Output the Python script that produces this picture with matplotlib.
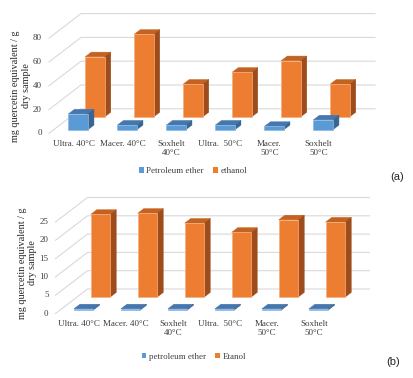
"""
Flavonoid content, two pseudo-3D column panels.
"""

import matplotlib

matplotlib.use("Agg")

import matplotlib.pyplot as plt
from matplotlib.patches import Patch, Polygon

plt.rcParams["font.family"] = ["Liberation Serif", "DejaVu Serif"]

# =====================================================
# Data
# =====================================================

categories = [
    "Ultra. 40°C",
    "Macer. 40°C",
    "Soxhelt\n40°C",
    "Ultra.  50°C",
    "Macer.\n50°C",
    "Soxhelt\n50°C",
]

# panel (a)
a_petroleum = [13.3, 3.9, 3.9, 3.9, 2.8, 8.3]
a_ethanol = [50.5, 69.4, 27.5, 37.5, 47.2, 27.5]
a_ticks = [0, 20, 40, 60, 80]
a_legend = ["Petroleum ether", "ethanol"]

# panel (b)
b_petroleum = [0.3, 0.3, 0.3, 0.3, 0.3, 0.3]
b_etanol = [22.6, 22.9, 20.2, 17.7, 21.1, 20.5]
b_ticks = [0, 5, 10, 15, 20, 25]
b_legend = ["petroleum ether", "Etanol"]

ylabel = "mg quercetin equivalent / g\ndry sample"

# =====================================================
# Style
# =====================================================

W, H = 413, 378

BLUE = {"face": "#5B9BD5", "top": "#4676AE", "side": "#3A6591", "edge": "#8DB8E2"}
ORANGE = {"face": "#ED7D31", "top": "#C4621F", "side": "#9E4C1B", "edge": "#F5AE7E"}
GRID = "#D9D9D9"

DEPTH_PX = (32, 24.5)      # oblique vector from front to back wall
BAR_W_PX = 19.5
THICK = 0.19               # bar depth, fraction of full depth
ROW_DEPTH = (0.145, 0.67)  # front, back series


def bar3d(ax, x, base, value, w, dx, dy, colors, z):
    xl = x - w / 2
    xr = x + w / 2
    tx = THICK * dx
    ty = THICK * dy
    top = base + value

    ax.add_patch(Polygon(
        [(xl, top), (xr, top), (xr + tx, top + ty), (xl + tx, top + ty)],
        closed=True, facecolor=colors["top"], edgecolor=colors["top"],
        linewidth=0.3, zorder=z,
    ))
    ax.add_patch(Polygon(
        [(xr, base), (xr, top), (xr + tx, top + ty), (xr + tx, base + ty)],
        closed=True, facecolor=colors["side"], edgecolor=colors["side"],
        linewidth=0.3, zorder=z,
    ))
    ax.bar(
        x, value, width=w, bottom=base,
        color=colors["face"], edgecolor=colors["edge"],
        linewidth=0.5, zorder=z + 0.1,
    )


def draw_panel(fig, top_px, bot_px, cx0, sx, y0, sy,
               front, back, ticks, legend_labels,
               ylabel_xy, legend_xy, tag, tag_xy):

    ax = fig.add_axes([0, 1 - bot_px / H, 1, (bot_px - top_px) / H])
    ax.set_xlim(-cx0 / sx, (W - cx0) / sx)
    ax.set_ylim((y0 - bot_px) / sy, (y0 - top_px) / sy)
    ax.axis("off")

    dx = DEPTH_PX[0] / sx
    dy = DEPTH_PX[1] / sy
    n = len(categories)
    left = -0.5
    right = n - 0.5

    # gridlines: side wall diagonal + back wall
    for v in ticks:
        ax.plot(
            [left, left + dx, right + dx],
            [v, v + dy, v + dy],
            color=GRID, linewidth=0.8, zorder=1,
        )
        ax.text(
            left - 7 / sx, v, str(v),
            ha="right", va="center", fontsize=6.5, color="#404040",
        )

    w = BAR_W_PX / sx

    for values, d, colors, z in (
        (back, ROW_DEPTH[1], ORANGE, 2),
        (front, ROW_DEPTH[0], BLUE, 3),
    ):
        for i, v in enumerate(values):
            bar3d(ax, i + d * dx, d * dy, v, w, dx, dy, colors, z)

    for i, label in enumerate(categories):
        ax.text(
            i, -7 / sy, label,
            ha="center", va="top", fontsize=6.5,
            linespacing=1.1, color="#404040",
        )

    fig.text(
        ylabel_xy[0] / W, 1 - ylabel_xy[1] / H, ylabel,
        rotation=90, ha="center", va="center",
        multialignment="center", fontsize=7.3,
        linespacing=1.15, color="#262626",
    )

    handles = [
        Patch(facecolor=BLUE["face"]),
        Patch(facecolor=ORANGE["face"]),
    ]
    fig.legend(
        handles, legend_labels,
        loc="center",
        bbox_to_anchor=(legend_xy[0] / W, 1 - legend_xy[1] / H),
        ncol=2, frameon=False, fontsize=6.5,
        handlelength=0.55, handleheight=0.55,
        handletextpad=0.3, columnspacing=1.0,
        labelcolor="#404040",
    )

    fig.text(
        tag_xy[0] / W, 1 - tag_xy[1] / H, tag,
        ha="center", va="center", fontsize=8,
        family=["Liberation Sans", "DejaVu Sans"], color="#262626",
    )

    return ax


fig = plt.figure(figsize=(W / 100, H / 100), dpi=100)

draw_panel(
    fig, 0, 185, 73.5, 49, 133.3, 1.19,
    a_petroleum, a_ethanol, a_ticks, a_legend,
    (21, 86), (193, 171), "(a)", (397, 177),
)

draw_panel(
    fig, 185, 378, 79, 47, 313.5, 3.66,
    b_petroleum, b_etanol, b_ticks, b_legend,
    (27.5, 263), (194, 356.7), "(b)", (393, 362),
)

fig.savefig("out.png", dpi=100)
